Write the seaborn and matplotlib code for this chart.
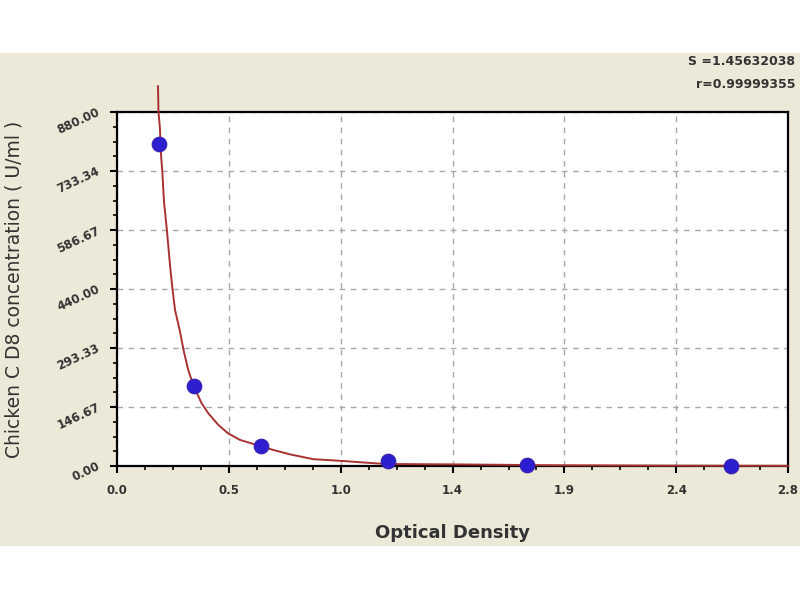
import numpy as np
import pandas as pd
import seaborn as sns
import matplotlib.pyplot as plt
from matplotlib.patches import Rectangle
from matplotlib.ticker import AutoMinorLocator

# standards
od = [0.175, 0.320, 0.602, 1.131, 1.711, 2.564]
conc = [800, 200, 50, 12.5, 3.125, 0]

# fitted curve
curve_od = [0.170, 0.172, 0.178, 0.183, 0.188, 0.195, 0.207, 0.220, 0.230, 0.241,
            0.262, 0.276, 0.296, 0.320, 0.352, 0.380, 0.422, 0.463, 0.512, 0.567,
            0.651, 0.721, 0.818, 0.929, 1.047, 1.120, 1.420, 1.800, 2.300, 2.800]
curve_conc = [945, 880, 840, 770, 732, 657, 587, 500, 442, 388,
              334, 290, 239, 197, 156, 131, 102, 81, 65, 55,
              40, 29, 17, 13, 8, 5, 4, 2, 1, 0.5]

xtick_labels = ['0.0', '0.5', '1.0', '1.4', '1.9', '2.4', '2.8']
ytick_labels = ['0.00', '146.67', '293.33', '440.00', '586.67', '733.34', '880.00']
stats = ['S =1.45632038', 'r=0.99999355']

sns.set_style('white')
plt.rcParams['font.family'] = ['DejaVu Sans']

fig = plt.figure(figsize=(8, 6), dpi=100)
fig.patch.set_facecolor('white')
fig.patches.append(Rectangle((0, 0.09), 1, 0.8217, transform=fig.transFigure,
                             facecolor='#ECE9D8', edgecolor='none', zorder=-10))
ax = fig.add_axes([0.1466, 0.2233, 0.8384, 0.59])
ax.set_facecolor('white')

sns.lineplot(x=curve_od, y=curve_conc, ax=ax, color='#a83232', lw=1.4,
             sort=False, estimator=None, clip_on=False, zorder=4)
sns.scatterplot(x=od, y=conc, ax=ax, color='#2b1fcf', edgecolor='#3a20b0',
                s=110, zorder=5, clip_on=False)

ax.set_xlim(0, 2.8)
ax.set_ylim(0, 880)
ax.set_xticks(np.linspace(0, 2.8, 7))
ax.set_xticklabels(xtick_labels, fontsize=8.5, fontweight='bold')
ax.set_yticks(np.linspace(0, 880, 7))
ax.set_yticklabels(ytick_labels, fontsize=8.5, fontweight='bold', rotation=25,
                   ha='right', va='center', rotation_mode='anchor')
ax.xaxis.set_minor_locator(AutoMinorLocator(4))
ax.yaxis.set_minor_locator(AutoMinorLocator(4))
ax.tick_params(which='major', direction='out', length=5, width=1.5, colors='black',
               left=True, bottom=True, pad=8)
ax.tick_params(which='minor', direction='out', length=3, width=1.2, colors='black',
               left=True, bottom=True)
for lab in ax.get_xticklabels() + ax.get_yticklabels():
    lab.set_color('#333333')

ax.grid(True, which='major', color='#a8a8a8', linestyle=(0, (4, 4)), lw=1)
for sp in ax.spines.values():
    sp.set_color('black')
    sp.set_linewidth(1.6)

ax.set_xlabel('Optical Density', fontsize=13, fontweight='bold', color='#333333')
ax.xaxis.set_label_coords(0.5, -0.165)
ax.set_ylabel('Chicken C D8 concentration ( U/ml )', fontsize=13.5, color='#333333')
ax.yaxis.set_label_coords(-0.14, 0.5)

fig.text(0.994, 0.898, stats[0], ha='right', va='center', fontsize=9, fontweight='bold',
         color='#333333')
fig.text(0.994, 0.860, stats[1], ha='right', va='center', fontsize=9, fontweight='bold',
         color='#333333')

fig.savefig('out.png', dpi=100)
